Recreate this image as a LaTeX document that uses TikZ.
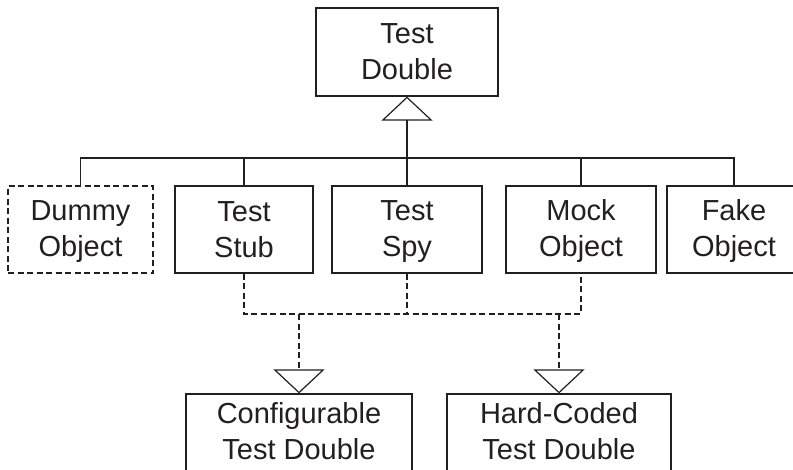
\documentclass[tikz,border=0pt]{standalone}
\usepackage{fontspec}
\setmainfont{Liberation Sans}
\usetikzlibrary{arrows.meta}
\definecolor{ink}{HTML}{231F20}
\newcommand{\twolines}[3][5pt]{\rule{0pt}{25pt}#2\\#3\rule[-#1]{0pt}{#1}}
\begin{document}
\begin{tikzpicture}[x=1pt,y=-1pt,
  every node/.style={font=\fontsize{29}{36}\selectfont, text=ink, align=center, inner sep=0pt},
  box/.style={draw=ink, line width=1.2pt, rectangle},
  dbox/.style={box, dash pattern=on 6pt off 3.5pt},
  link/.style={draw=ink, line width=1.2pt},
  dlink/.style={link, dash pattern=on 6pt off 3.5pt},
  inh/.style={-{Triangle[open, length=24pt, width=51pt]}}
]
\useasboundingbox (0,0) rectangle (793,469);
\node[box, minimum width=182pt, minimum height=88pt] (td) at (407,52) {\twolines[7pt]{Test}{Double}};
\node[dbox, minimum width=145pt, minimum height=87pt] (dummy) at (80.5,229.5) {\twolines{Dummy}{Object}};
\node[box, minimum width=138pt, minimum height=87pt] (stub) at (244,229.5) {\twolines{Test}{Stub}};
\node[box, minimum width=150pt, minimum height=87pt] (spy) at (407,229.5) {\twolines{Test}{Spy}};
\node[box, minimum width=150pt, minimum height=87pt] (mock) at (581,229.5) {\twolines{Mock}{Object}};
\node[box, minimum width=134pt, minimum height=87pt] (fake) at (734,229.5) {\twolines{Fake}{Object}};
\node[box, minimum width=226pt, minimum height=80pt] (conf) at (299,434) {\twolines[11pt]{Configurable}{Test Double}};
\node[box, minimum width=224pt, minimum height=80pt] (hard) at (559,434) {\twolines[11pt]{Hard-Coded}{Test Double}};
\coordinate (bus) at (407,158);
\coordinate (dbus) at (407,314);
% inheritance tree
\draw[link] (dummy.north) |- (bus) -| (fake.north);
\draw[link] (stub.north) -- (stub.north |- bus);
\draw[link] (mock.north) -- (mock.north |- bus);
\draw[link] (spy.north) -- (spy.north |- bus);
\draw[link, inh] (bus) -- (td.south);
% dashed tree
\draw[dlink] (stub.south) |- (dbus) -| (mock.south);
\draw[dlink] (spy.south) -- (spy.south |- dbus);
\draw[dlink, inh] (conf.north |- dbus) -- (conf.north);
\draw[dlink, inh] (hard.north |- dbus) -- (hard.north);
\end{tikzpicture}
\end{document}
